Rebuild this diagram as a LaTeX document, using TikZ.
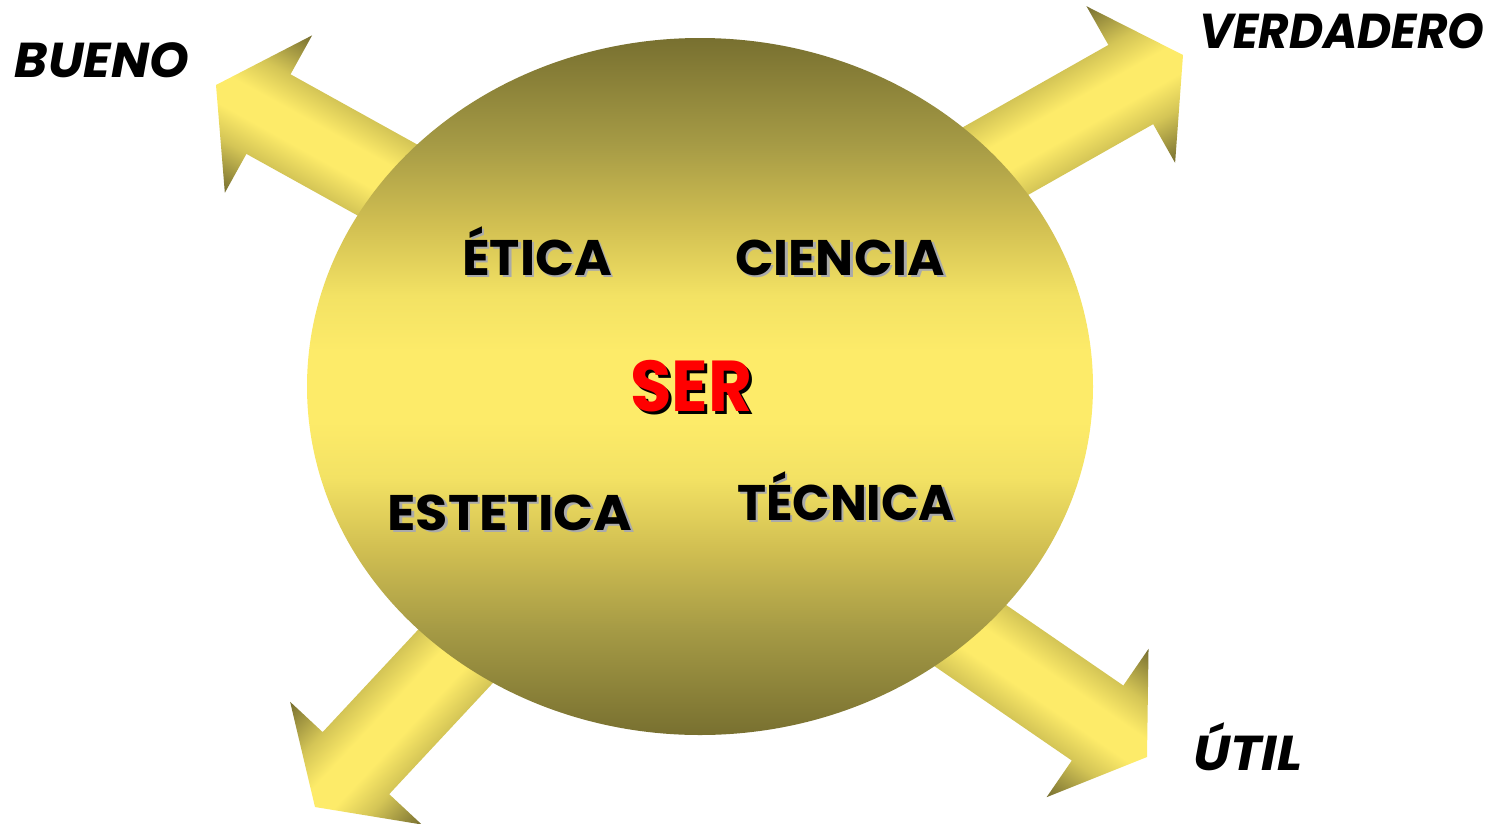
\documentclass[tikz,border=0pt]{standalone}
\usepackage{fontspec}
\usepackage{graphicx}
\newfontfamily\comic{Poppins}
\definecolor{ellDark}{RGB}{120,112,48}
\definecolor{ellMidA}{RGB}{165,154,69}
\definecolor{ellMidB}{RGB}{210,192,82}
\definecolor{ellMidC}{RGB}{243,226,100}
\definecolor{ellBright}{RGB}{253,235,105}
\definecolor{arrDark}{RGB}{118,110,48}
\definecolor{arrMid}{RGB}{212,197,86}
\definecolor{arrBright}{RGB}{253,235,105}
\definecolor{shGrey}{RGB}{170,170,170}
\definecolor{serRed}{RGB}{255,0,0}
\pgfdeclareverticalshading{ellshade}{100bp}{%
  color(0bp)=(ellDark); color(25bp)=(ellDark); color(32.5bp)=(ellMidA);
  color(38.5bp)=(ellMidB); color(43.5bp)=(ellMidC); color(47.5bp)=(ellBright);
  color(52.5bp)=(ellBright); color(56.5bp)=(ellMidC); color(61.5bp)=(ellMidB);
  color(67.5bp)=(ellMidA); color(75bp)=(ellDark); color(100bp)=(ellDark)}
\pgfdeclareverticalshading{arrshade}{100bp}{%
  color(0bp)=(arrDark); color(25bp)=(arrDark); color(37.5bp)=(arrMid);
  color(46bp)=(arrBright); color(54bp)=(arrBright); color(62.5bp)=(arrMid);
  color(75bp)=(arrDark); color(100bp)=(arrDark)}
\newcommand\fitw[2]{\resizebox{#1}{\height}{#2}}
\newcommand\blockarrow[3]{%
  \begin{scope}[transform canvas={shift={(#1,#2)},rotate=#3}]
    \shade[arrowfill] (0,0) -- (-60,90) -- (-60,45.5) -- (-340,45.5)
      -- (-340,-45.5) -- (-60,-45.5) -- (-60,-90) -- cycle;
  \end{scope}}
\begin{document}
\begin{tikzpicture}[x=1pt,y=1pt,
  arrowfill/.style={shading=arrshade},
  innertxt/.style={font=\comic\bfseries\fontsize{50}{50}\selectfont, inner sep=0pt, anchor=base, text=black},
  innersh/.style={innertxt, text=shGrey},
  sertxt/.style={font=\comic\bfseries\fontsize{72}{72}\selectfont, inner sep=0pt, anchor=base, text=serRed},
  sersh/.style={sertxt, text=black},
  outertxt/.style={font=\comic\bfseries\itshape\fontsize{49}{49}\selectfont, inner sep=0pt, anchor=base, text=black}]
\useasboundingbox (0,0) rectangle (1497,-823);
% arrows
\blockarrow{216}{-85}{151}
\blockarrow{1183}{-55}{29.5}
\blockarrow{315}{-807}{227}
\blockarrow{1147}{-757}{-34.5}
% sphere
\shade[shading=ellshade]
  (700,-386.5) ellipse [x radius=393, y radius=348.5];
\coordinate (ser) at (700,-386.5);
% inner texts
\node[innersh] (eticaS) at (539.5,-277.5) {\fitw{150pt}{ÉTICA}};
\node[innertxt] (etica) at (537,-275) {\fitw{150pt}{ÉTICA}};
\node[innersh] (cienciaS) at (842.5,-277.5) {\fitw{210pt}{CIENCIA}};
\node[innertxt] (ciencia) at (840,-275) {\fitw{210pt}{CIENCIA}};
\node[innersh] (esteticaS) at (512.5,-532.5) {\fitw{245pt}{ESTETICA}};
\node[innertxt] (estetica) at (510,-530) {\fitw{245pt}{ESTETICA}};
\node[innersh] (tecnicaS) at (848.5,-522.5) {\fitw{218pt}{TÉCNICA}};
\node[innertxt] (tecnica) at (846,-520) {\fitw{218pt}{TÉCNICA}};
\node[sersh] (serS) at (694,-414) {\fitw{122pt}{SER}};
\node[sertxt] (sertext) at (691,-411) {\fitw{122pt}{SER}};
% outer labels
\node[outertxt] (bueno) at (102,-77) {\fitw{174pt}{BUENO}};
\node[outertxt] (verdadero) at (1342,-48) {\fitw{285pt}{VERDADERO}};
\node[outertxt] (util) at (1248,-770) {\fitw{109pt}{ÚTIL}};
\end{tikzpicture}
\end{document}
